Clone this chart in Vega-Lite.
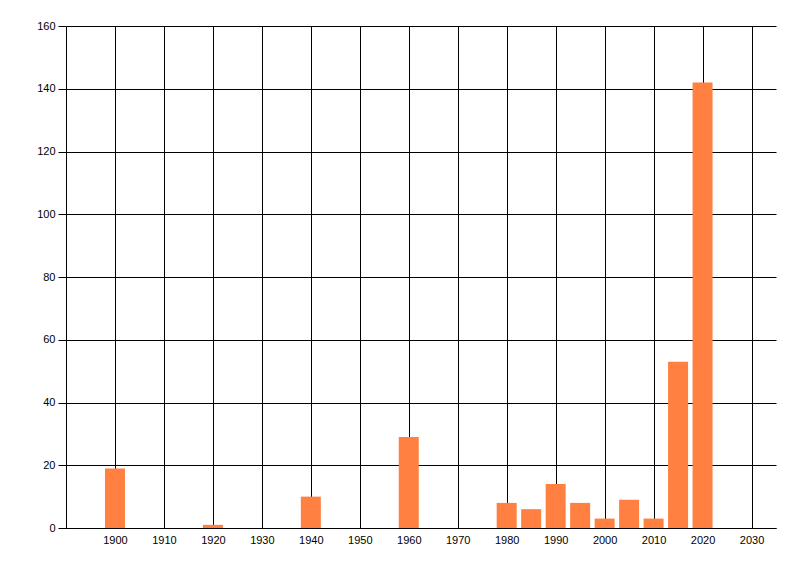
{
  "$schema": "https://vega.github.io/schema/vega-lite/v6.json",
  "autosize": "none",
  "width": 710,
  "height": 502,
  "padding": {"left": 66, "top": 26, "right": 24, "bottom": 48},
  "background": "white",
  "config": {
    "view": {"stroke": null},
    "axis": {"labelFont": "Liberation Sans", "labelFontSize": 11, "labelColor": "black", "gridColor": "black", "gridOpacity": 1, "gridWidth": 1, "domainColor": "black", "domainWidth": 1, "tickColor": "black"}
  },
  "data": {"values": [
    {"year": 1900, "count": 19},
    {"year": 1920, "count": 1},
    {"year": 1940, "count": 10},
    {"year": 1960, "count": 29},
    {"year": 1980, "count": 8},
    {"year": 1985, "count": 6},
    {"year": 1990, "count": 14},
    {"year": 1995, "count": 8},
    {"year": 2000, "count": 3},
    {"year": 2005, "count": 9},
    {"year": 2010, "count": 3},
    {"year": 2015, "count": 53},
    {"year": 2020, "count": 142}
  ]},
  "mark": {"type": "bar", "orient": "vertical", "size": 20, "color": "#FF8040"},
  "encoding": {
    "x": {"field": "year", "type": "quantitative", "scale": {"domain": [1890, 2035], "nice": false, "zero": false, "padding": 0},
      "axis": {"title": null, "values": [1900,1910,1920,1930,1940,1950,1960,1970,1980,1990,2000,2010,2020,2030], "format": "d", "ticks": false, "labelPadding": 6, "grid": true}},
    "y": {"field": "count", "type": "quantitative", "scale": {"domain": [0, 160], "nice": false},
      "axis": {"title": null, "values": [0,20,40,60,80,100,120,140,160], "tickSize": 8, "labelPadding": 3, "grid": true}}
  }
}
